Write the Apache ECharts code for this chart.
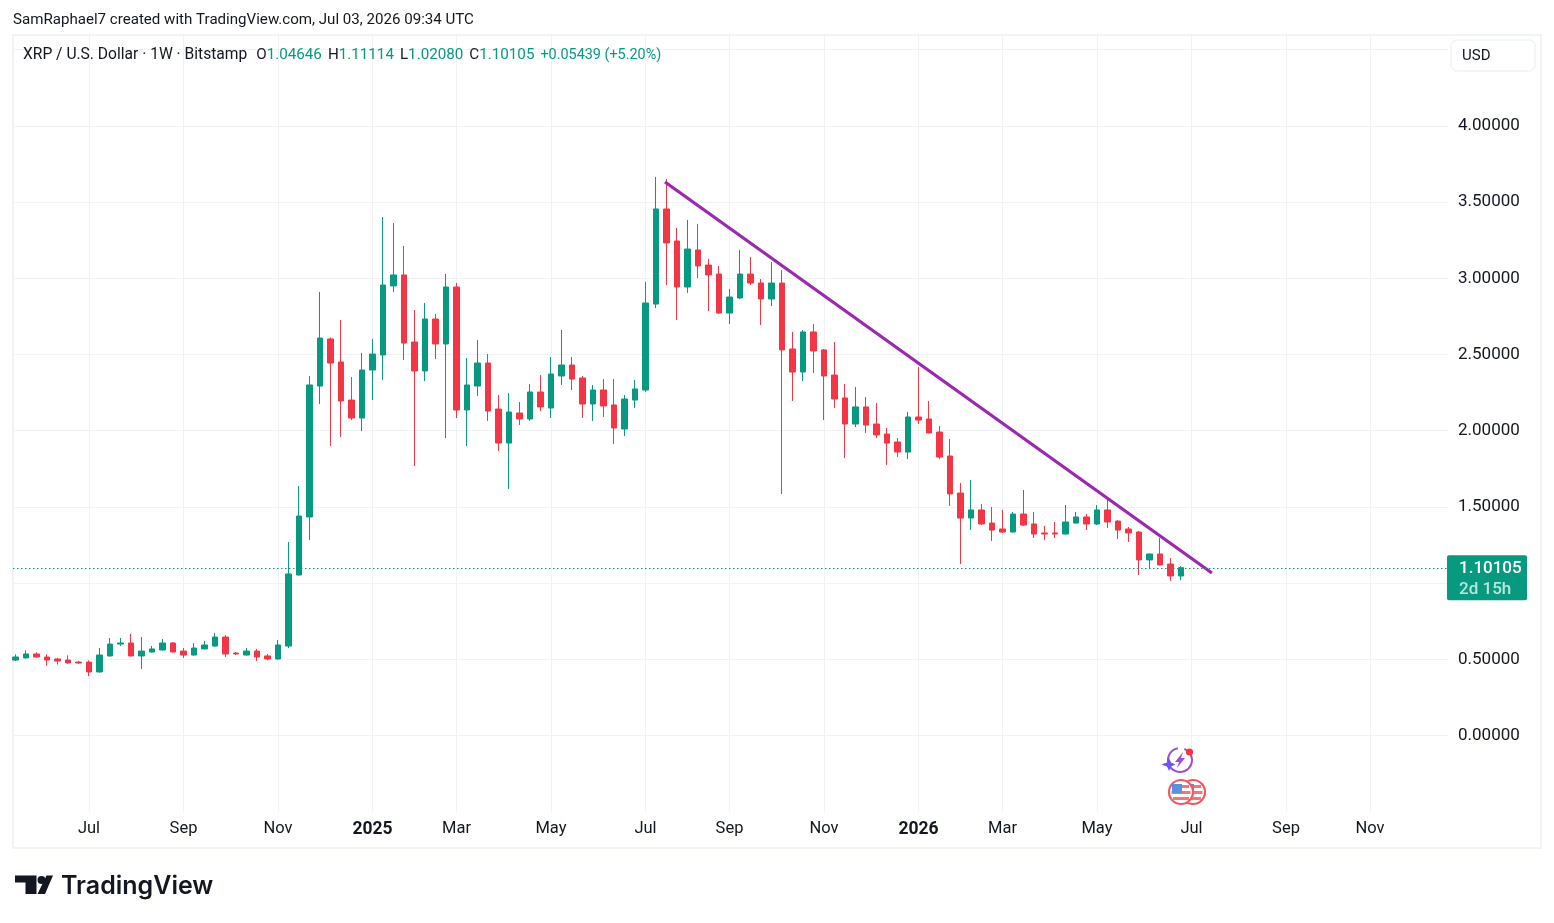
<!DOCTYPE html>
<html>
<head>
<meta charset="utf-8">
<title>XRP / U.S. Dollar weekly</title>
<script src="https://cdn.jsdelivr.net/npm/echarts@6/dist/echarts.min.js"></script>
<style>
  html, body { margin: 0; padding: 0; background: #ffffff; }
  #chart { width: 1554px; height: 923px; }
</style>
</head>
<body>
<div id="chart"></div>
<script>
// Weekly XRP/USD candles, oldest first; index 0 is the week of 13 May 2024.
const opens = [
  0.495,0.509,0.535,0.515,0.502,0.495,0.482,0.482,0.417,0.522,0.600,0.607,0.522,0.548,0.561,0.607,
  0.554,0.528,0.568,0.587,0.646,0.541,0.528,0.554,0.522,0.502,0.587,1.053,1.434,2.293,2.602,2.451,
  2.201,2.083,2.398,2.497,2.950,3.022,2.582,2.392,2.733,2.569,2.943,2.136,2.293,2.444,2.142,1.919,
  2.116,2.077,2.254,2.149,2.359,2.431,2.346,2.175,2.267,2.169,2.011,2.201,2.267,2.831,3.455,3.245,
  2.943,3.186,3.087,3.028,2.772,2.871,3.028,2.969,2.864,2.969,2.536,2.385,2.648,2.530,2.365,2.215,
  2.044,2.156,2.044,1.978,1.926,1.860,2.090,2.077,1.991,1.834,1.591,1.427,1.480,1.394,1.355,1.335,
  1.453,1.388,1.329,1.329,1.322,1.394,1.434,1.388,1.480,1.407,1.355,1.335,1.152,1.191,1.125,1.04646
];
const closes = [
  0.515,0.535,0.515,0.495,0.489,0.476,0.476,0.417,0.528,0.600,0.607,0.522,0.554,0.568,0.607,0.548,
  0.528,0.574,0.594,0.646,0.535,0.535,0.554,0.515,0.502,0.594,1.060,1.440,2.300,2.608,2.444,2.195,
  2.083,2.398,2.503,2.956,3.022,2.575,2.392,2.733,2.569,2.943,2.136,2.300,2.444,2.129,1.919,2.123,
  2.077,2.254,2.156,2.372,2.431,2.339,2.175,2.267,2.162,2.018,2.208,2.274,2.838,3.455,3.232,2.943,
  3.192,3.081,3.022,2.772,2.877,3.028,2.969,2.864,2.969,2.530,2.385,2.648,2.523,2.359,2.208,2.044,
  2.156,2.037,1.972,1.919,1.860,2.090,2.070,1.985,1.827,1.585,1.427,1.480,1.388,1.348,1.335,1.453,
  1.381,1.322,1.322,1.322,1.401,1.434,1.388,1.480,1.401,1.348,1.329,1.152,1.191,1.119,1.047,1.10105
];
const lows = [
  0.489,0.505,0.512,0.458,0.465,0.472,0.471,0.390,0.412,0.518,0.587,0.518,0.436,0.545,0.558,0.545,
  0.509,0.525,0.565,0.581,0.515,0.528,0.525,0.489,0.495,0.498,0.574,1.050,1.283,2.175,1.900,1.959,
  2.070,1.998,2.201,2.333,2.910,2.464,1.768,2.326,2.470,1.952,2.083,1.900,2.228,2.064,1.867,1.617,
  2.037,2.064,2.129,2.083,2.300,2.267,2.083,2.064,2.090,1.913,1.965,2.149,2.254,2.805,2.956,2.726,
  2.904,3.002,2.785,2.766,2.700,2.864,2.956,2.694,2.818,1.585,2.195,2.326,2.379,2.070,2.149,1.821,
  2.024,1.985,1.952,1.775,1.827,1.814,2.044,1.982,1.814,1.506,1.125,1.348,1.381,1.276,1.329,1.332,
  1.375,1.296,1.283,1.296,1.318,1.390,1.348,1.381,1.362,1.289,1.270,1.053,1.093,1.115,1.014,1.0208
];
const highs = [
  0.533,0.559,0.546,0.533,0.509,0.526,0.489,0.493,0.574,0.640,0.640,0.666,0.646,0.587,0.633,0.613,
  0.574,0.607,0.620,0.673,0.659,0.548,0.574,0.568,0.535,0.627,1.270,1.637,2.359,2.910,2.612,2.726,
  2.352,2.510,2.602,3.402,3.363,3.212,2.792,2.838,2.766,3.028,2.969,2.477,2.595,2.503,2.234,2.247,
  2.188,2.306,2.365,2.484,2.661,2.484,2.359,2.300,2.339,2.339,2.234,2.333,2.976,3.665,3.652,3.330,
  3.383,3.356,3.127,3.081,2.930,3.186,3.140,2.995,3.107,3.054,2.648,2.661,2.700,2.536,2.582,2.306,
  2.287,2.221,2.182,2.018,1.952,2.123,2.418,2.195,2.031,1.946,1.657,1.676,1.519,1.499,1.480,1.467,
  1.611,1.467,1.375,1.401,1.512,1.467,1.453,1.512,1.552,1.414,1.368,1.342,1.194,1.296,1.165,1.11114
];

// Hand-drawn descending trendline: [week index, price] at each end.
const trendStart = [61.86, 3.632];
const trendEnd = [113.95, 1.066];

// Time-scale ticks: the week index each label sits on.
const timeTickWeeks = [7, 16, 25, 34, 42, 51, 60, 68, 77, 86, 94, 103, 112, 121, 129];
const timeTickLabels = ['Jul', 'Sep', 'Nov', '2025', 'Mar', 'May', 'Jul', 'Sep', 'Nov', '2026', 'Mar', 'May', 'Jul', 'Sep', 'Nov'];
const priceLabelTicks = [0, 0.5, 1, 1.5, 2, 2.5, 3, 3.5, 4];
const priceGridTicks = [0, 0.5, 1, 1.5, 2, 2.5, 3, 3.5, 4, 4.5];

const UP = '#089981';
const DOWN = '#f23645';
const INK = '#131722';
const GRID = '#f1f2f4';
const UI_FONT = 'Roboto, sans-serif';

const lastClose = closes[closes.length - 1];
const candles = opens.map((o, i) => [i, o, closes[i], lows[i], highs[i]]);

const legendLine =
  '{s|XRP / U.S. Dollar · 1W · Bitstamp}{h|}{k|O}{v|1.04646}{g|}{k|H}{v|1.11114}{g|}{k|L}{v|1.02080}{g|}{k|C}{v|1.10105}{g|}{c|+0.05439 (+5.20%)}';

const chart = echarts.init(document.getElementById('chart'), null, { renderer: 'canvas' });

chart.setOption({
  animation: false,
  backgroundColor: '#ffffff',
  title: [
    {
      text: 'SamRaphael7 created with TradingView.com, Jul 03, 2026 09:34 UTC',
      left: 13, top: 13, padding: 0,
      textStyle: { fontFamily: UI_FONT, fontSize: 15.1, fontWeight: 'normal', color: INK }
    },
    {
      text: legendLine,
      left: 23, top: 46, padding: 0,
      textStyle: {
        fontWeight: 'normal',
        rich: {
          s: { fontFamily: UI_FONT, fontSize: 15.6, fontWeight: 'normal', color: INK },
          k: { fontFamily: UI_FONT, fontSize: 15.2, fontWeight: 'normal', color: INK },
          v: { fontFamily: UI_FONT, fontSize: 15.2, fontWeight: 'normal', color: UP },
          c: { fontFamily: UI_FONT, fontSize: 14.4, fontWeight: 'normal', color: UP },
          h: { width: 9 },
          g: { width: 6 }
        }
      }
    }
  ],
  grid: { left: 13, top: 34.46, width: 1435, height: 777.24, containLabel: false, show: false },
  xAxis: {
    type: 'value',
    min: -0.238,
    max: 136.43,
    axisLine: { show: false },
    axisTick: { show: false, customValues: timeTickWeeks },
    splitLine: { show: true, lineStyle: { color: GRID, width: 1 } },
    axisLabel: {
      customValues: timeTickWeeks,
      margin: 9,
      fontFamily: UI_FONT,
      fontSize: 16.5,
      color: INK,
      formatter: (v) => {
        const label = timeTickLabels[timeTickWeeks.indexOf(v)];
        return /^\d{4}$/.test(label) ? '{y|' + label + '}' : label;
      },
      rich: { y: { fontFamily: UI_FONT, fontSize: 17.5, fontWeight: 'bold', color: INK } }
    }
  },
  yAxis: {
    type: 'value',
    position: 'right',
    min: -0.5,
    max: 4.6,
    axisLine: { show: false },
    axisTick: { show: false, customValues: priceGridTicks },
    splitLine: { show: true, lineStyle: { color: GRID, width: 1 } },
    axisLabel: {
      customValues: priceLabelTicks,
      margin: 10,
      padding: [4, 0, 0, 0],
      fontFamily: UI_FONT,
      fontSize: 17,
      color: INK,
      formatter: (v) => v.toFixed(5)
    }
  },
  series: [
    {
      name: 'XRP/USD',
      type: 'candlestick',
      barWidth: 6,
      data: candles,
      itemStyle: { color: UP, color0: DOWN, borderColor: UP, borderColor0: DOWN, borderWidth: 1 },
      markLine: {
        silent: true,
        symbol: 'none',
        label: { show: false },
        lineStyle: { type: [1.5, 2.5], color: UP, width: 1 },
        data: [{ yAxis: lastClose }]
      }
    },
    {
      name: 'Trendline',
      type: 'line',
      data: [trendStart, trendEnd],
      symbol: 'none',
      lineStyle: { color: '#9c27b0', width: 3.2 }
    }
  ]
});

// Chart furniture: frame, currency button, last-price tag, event badges and wordmark.
const priceY = chart.convertToPixel({ yAxisIndex: 0 }, lastClose);

chart.setOption({
  graphic: [
    { type: 'rect', z: -1, silent: true, shape: { x: 13, y: 35, width: 1528, height: 813 },
      style: { fill: 'none', stroke: '#f0f3f7', lineWidth: 2 } },
    { type: 'rect', z: 5, silent: true, shape: { x: 1451, y: 40, width: 84, height: 31, r: 6 },
      style: { fill: '#ffffff', stroke: '#f0f3f7', lineWidth: 1.5 } },
    { type: 'text', z: 6, silent: true, x: 1462, y: 49,
      style: { text: 'USD', font: '15px ' + UI_FONT, fill: INK } },

    { type: 'rect', z: 5, silent: true, shape: { x: 1447, y: priceY - 12.5, width: 80, height: 45, r: 2 },
      style: { fill: UP } },
    { type: 'text', z: 6, silent: true, x: 1459, y: priceY - 7,
      style: { text: lastClose.toFixed(5), font: '500 17px ' + UI_FONT, fill: '#ffffff' } },
    { type: 'text', z: 6, silent: true, x: 1459, y: priceY + 14,
      style: { text: '2d 15h', font: '500 17px ' + UI_FONT, fill: '#b9e6dc' } },

    // Earnings-style spark badge
    { type: 'group', x: 1180, y: 760, silent: true, children: [
      { type: 'arc', shape: { cx: 0, cy: 0, r: 12, startAngle: -1.2, endAngle: 3.6 },
        style: { fill: 'none', stroke: '#9c4fd6', lineWidth: 2 } },
      { type: 'arc', shape: { cx: 0, cy: 0, r: 12, startAngle: -2.7, endAngle: -1.75 },
        style: { fill: 'none', stroke: '#9c4fd6', lineWidth: 2 } },
      { type: 'polygon', shape: { points: [[3, -8], [-5, 2], [-1, 2], [-3, 8], [5, -2], [1, -2]] },
        style: { fill: '#a14fd8' } },
      { type: 'polygon', shape: { points: [[-11, -2], [-9, 2.5], [-4.5, 4.5], [-9, 6.5], [-11, 11], [-13, 6.5], [-18.5, 4.5], [-13, 2.5]] },
        style: { fill: '#6e54f0' } },
      { type: 'circle', shape: { cx: 9.5, cy: -8, r: 3.6 }, style: { fill: '#f23645' } }
    ] },

    // Two overlapping US economic-event coins
    ...[[1193, 792], [1181, 792]].map(([cx, cy]) => ({
      type: 'group', x: cx, y: cy, silent: true, children: [
        { type: 'circle', shape: { cx: 0, cy: 0, r: 12 }, style: { fill: '#ffffff', stroke: '#ee5a60', lineWidth: 2.2 } },
        { type: 'rect', shape: { x: -9.5, y: -1, width: 19, height: 3 }, style: { fill: '#f0767a' } },
        { type: 'rect', shape: { x: -8, y: 5, width: 16, height: 3 }, style: { fill: '#f0767a' } },
        { type: 'rect', shape: { x: 0, y: -7, width: 8, height: 3 }, style: { fill: '#f0767a' } },
        { type: 'rect', shape: { x: -9, y: -8, width: 10, height: 9 }, style: { fill: '#5b8fe0' } }
      ]
    })),

    // TradingView wordmark
    { type: 'polygon', silent: true, shape: { points: [[15, 875.5], [36.5, 875.5], [36.5, 894], [25.5, 894], [25.5, 882.5], [15, 882.5]] },
      style: { fill: INK } },
    { type: 'circle', silent: true, shape: { cx: 41.5, cy: 880, r: 4 }, style: { fill: INK } },
    { type: 'polygon', silent: true, shape: { points: [[46.5, 875.5], [53, 875.5], [45, 894], [37.5, 894]] },
      style: { fill: INK } },
    { type: 'text', silent: true, x: 61, y: 874,
      style: { text: 'TradingView', font: '600 25px Inter, sans-serif', fill: INK } }
  ]
});
</script>
</body>
</html>
